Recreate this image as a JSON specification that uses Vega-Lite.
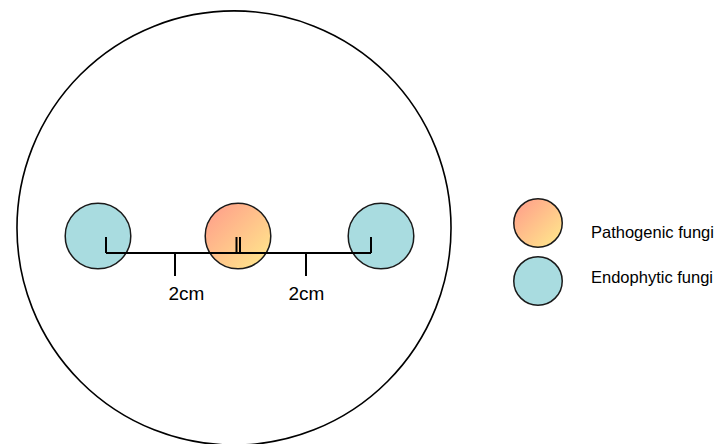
{
  "$schema": "https://vega.github.io/schema/vega-lite/v6.json",
  "width": 721,
  "height": 444,
  "autosize": {"type": "none"},
  "padding": 0,
  "background": "white",
  "config": {"view": {"stroke": null}, "axis": {"disable": true}},
  "datasets": {
    "dish": [{"x": 234, "y": 228}],
    "fungi": [
      {"x": 98, "y": 236, "type": "Endophytic fungi"},
      {"x": 238, "y": 236, "type": "Pathogenic fungi"},
      {"x": 381, "y": 236, "type": "Endophytic fungi"}
    ],
    "legend": [
      {"x": 538, "y": 223, "tx": 591, "ty": 237.5, "type": "Pathogenic fungi"},
      {"x": 538, "y": 281, "tx": 591, "ty": 282.5, "type": "Endophytic fungi"}
    ],
    "segments": [
      {"x": 106, "x2": 371, "y": 253, "y2": 253},
      {"x": 106, "x2": 106, "y": 237, "y2": 253},
      {"x": 371, "x2": 371, "y": 237, "y2": 253},
      {"x": 236.5, "x2": 236.5, "y": 237, "y2": 253},
      {"x": 240, "x2": 240, "y": 237, "y2": 253},
      {"x": 175, "x2": 175, "y": 253, "y2": 276},
      {"x": 306, "x2": 306, "y": 253, "y2": 276}
    ],
    "labels": [
      {"x": 186.5, "y": 300, "text": "2cm"},
      {"x": 306.5, "y": 300, "text": "2cm"}
    ]
  },
  "layer": [
    {
      "data": {"name": "dish"},
      "mark": {"type": "point", "shape": "circle", "size": 188400, "filled": false, "stroke": "black", "strokeWidth": 1.6, "opacity": 1},
      "encoding": {
        "x": {"field": "x", "type": "quantitative", "scale": {"domain": [0, 721], "nice": false, "zero": false}, "axis": null},
        "y": {"field": "y", "type": "quantitative", "scale": {"domain": [0, 444], "nice": false, "zero": false, "reverse": true}, "axis": null}
      }
    },
    {
      "data": {"name": "fungi"},
      "transform": [{"filter": "datum.type === 'Endophytic fungi'"}],
      "mark": {"type": "point", "shape": "circle", "size": 4300, "filled": true, "fill": "#a9dce0", "stroke": "#1a1a1a", "strokeWidth": 1.5, "opacity": 1, "fillOpacity": 1},
      "encoding": {
        "x": {"field": "x", "type": "quantitative"},
        "y": {"field": "y", "type": "quantitative"}
      }
    },
    {
      "data": {"name": "fungi"},
      "transform": [{"filter": "datum.type === 'Pathogenic fungi'"}],
      "mark": {"type": "point", "shape": "circle", "size": 4300, "filled": true,
        "fill": {"gradient": "linear", "x1": 0, "y1": 0, "x2": 1, "y2": 1,
          "stops": [{"offset": 0, "color": "#ff9a8a"}, {"offset": 1, "color": "#ffec8c"}]},
        "stroke": "#1a1a1a", "strokeWidth": 1.5, "opacity": 1, "fillOpacity": 1},
      "encoding": {
        "x": {"field": "x", "type": "quantitative"},
        "y": {"field": "y", "type": "quantitative"}
      }
    },
    {
      "data": {"name": "segments"},
      "mark": {"type": "rule", "color": "black", "strokeWidth": 2},
      "encoding": {
        "x": {"field": "x", "type": "quantitative"},
        "x2": {"field": "x2"},
        "y": {"field": "y", "type": "quantitative"},
        "y2": {"field": "y2"}
      }
    },
    {
      "data": {"name": "labels"},
      "mark": {"type": "text", "font": "Liberation Sans", "fontSize": 19, "align": "center", "baseline": "alphabetic", "color": "black"},
      "encoding": {
        "x": {"field": "x", "type": "quantitative"},
        "y": {"field": "y", "type": "quantitative"},
        "text": {"field": "text"}
      }
    },
    {
      "data": {"name": "legend"},
      "transform": [{"filter": "datum.type === 'Pathogenic fungi'"}],
      "mark": {"type": "point", "shape": "circle", "size": 2350, "filled": true,
        "fill": {"gradient": "linear", "x1": 0, "y1": 0, "x2": 1, "y2": 1,
          "stops": [{"offset": 0, "color": "#ff9a8a"}, {"offset": 1, "color": "#ffec8c"}]},
        "stroke": "#1a1a1a", "strokeWidth": 1.5, "opacity": 1, "fillOpacity": 1},
      "encoding": {
        "x": {"field": "x", "type": "quantitative"},
        "y": {"field": "y", "type": "quantitative"}
      }
    },
    {
      "data": {"name": "legend"},
      "transform": [{"filter": "datum.type === 'Endophytic fungi'"}],
      "mark": {"type": "point", "shape": "circle", "size": 2350, "filled": true, "fill": "#a9dce0", "stroke": "#1a1a1a", "strokeWidth": 1.5, "opacity": 1, "fillOpacity": 1},
      "encoding": {
        "x": {"field": "x", "type": "quantitative"},
        "y": {"field": "y", "type": "quantitative"}
      }
    },
    {
      "data": {"name": "legend"},
      "mark": {"type": "text", "font": "Liberation Sans", "fontSize": 16.5, "align": "left", "baseline": "alphabetic", "color": "black"},
      "encoding": {
        "x": {"field": "tx", "type": "quantitative"},
        "y": {"field": "ty", "type": "quantitative"},
        "text": {"field": "type"}
      }
    }
  ]
}
